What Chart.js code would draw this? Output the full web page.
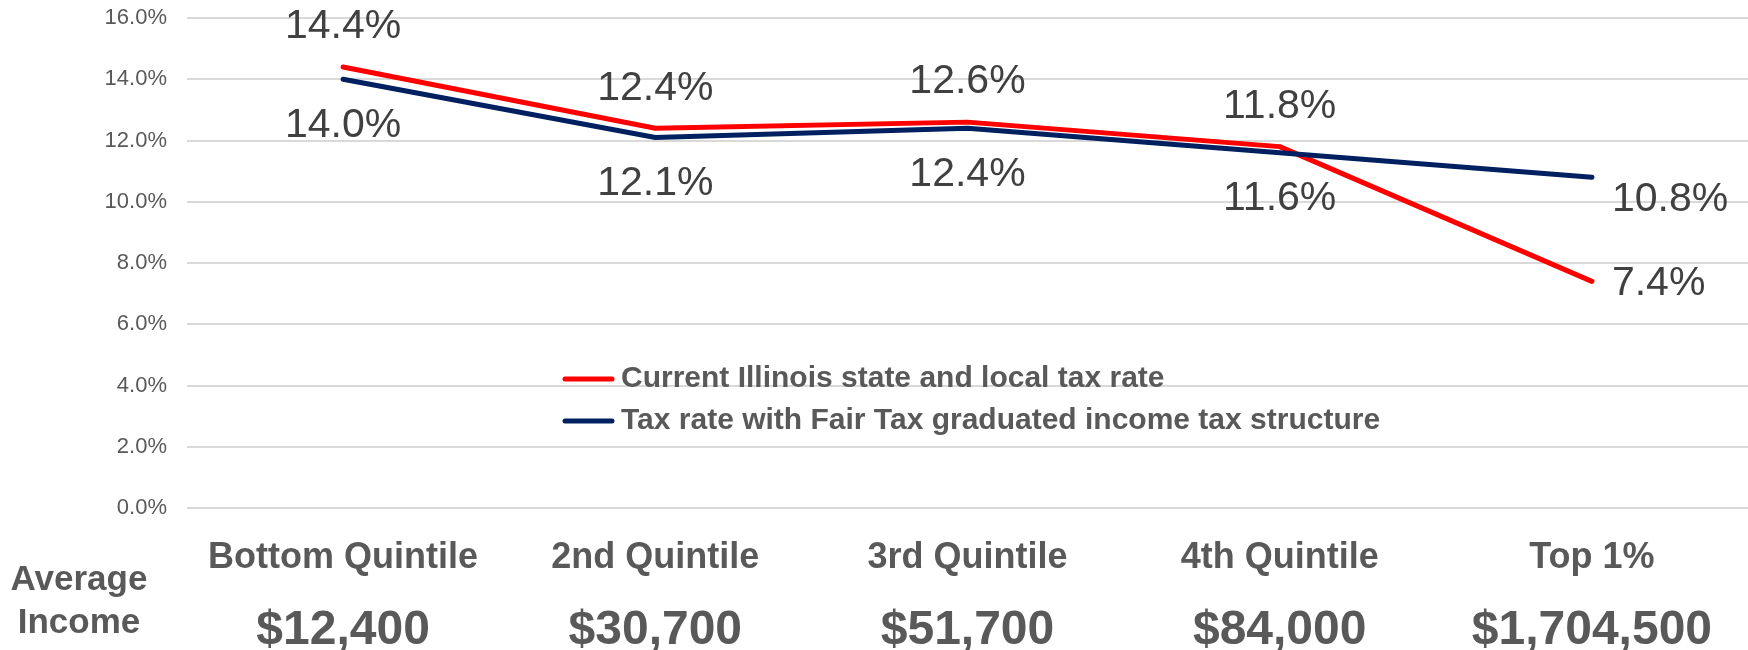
<!DOCTYPE html>
<html>
<head>
<meta charset="utf-8">
<script src="https://cdn.jsdelivr.net/npm/chart.js@4.4.0/dist/chart.umd.min.js"></script>
<style>
  html, body { margin: 0; padding: 0; background: #fff; }
  #wrap { width: 1748px; height: 650px; }
</style>
</head>
<body>
<div id="wrap"><canvas id="taxChart" width="1748" height="650"></canvas></div>
<script>
// chart data
const quintiles = ['Bottom Quintile', '2nd Quintile', '3rd Quintile', '4th Quintile', 'Top 1%'];
const incomes = ['$12,400', '$30,700', '$51,700', '$84,000', '$1,704,500'];
const currentRate = [14.4, 12.4, 12.6, 11.8, 7.4];
const fairTaxRate = [14.0, 12.1, 12.4, 11.6, 10.8];
const seriesNames = ['Current Illinois state and local tax rate', 'Tax rate with Fair Tax graduated income tax structure'];
const seriesColors = ['#FF0000', '#002060'];

const FONT = '"Liberation Sans", Arial, sans-serif';
const GREY = '#595959';

// value labels: red above, navy below, last point to the right
const valueLabels = {
    id: 'valueLabels',
    afterDatasetsDraw(chart) {
        const ctx = chart.ctx;
        ctx.save();
        ctx.font = '41px ' + FONT;
        ctx.fillStyle = '#404040';
        ctx.textBaseline = 'middle';
        chart.data.datasets.forEach((ds, di) => {
            const meta = chart.getDatasetMeta(di);
            meta.data.forEach((pt, i) => {
                const txt = ds.data[i].toFixed(1) + '%';
                const last = i === meta.data.length - 1;
                if (last) {
                    ctx.textAlign = 'left';
                    ctx.fillText(txt, pt.x + 20, pt.y + (di === 0 ? 2 : 22));
                } else {
                    ctx.textAlign = 'center';
                    ctx.fillText(txt, pt.x, pt.y + (di === 0 ? -40 : 46));
                }
            });
        });
        ctx.restore();
    }
};

// legend inside the plot + "Average Income" caption
const extras = {
    id: 'extras',
    afterDraw(chart) {
        const ctx = chart.ctx;
        ctx.save();
        const rows = [379, 421];
        chart.data.datasets.forEach((ds, i) => {
            ctx.strokeStyle = ds.borderColor;
            ctx.lineWidth = 5;
            ctx.lineCap = 'round';
            ctx.beginPath();
            ctx.moveTo(565, rows[i]);
            ctx.lineTo(612, rows[i]);
            ctx.stroke();
            ctx.font = 'bold 30px ' + FONT;
            ctx.fillStyle = GREY;
            ctx.textAlign = 'left';
            ctx.textBaseline = 'middle';
            ctx.fillText(ds.label, 621, rows[i]);
        });
        ctx.font = 'bold 35px ' + FONT;
        ctx.textAlign = 'center';
        ctx.fillText('Average', 79, 580);
        ctx.fillText('Income', 79, 623);
        ctx.restore();
    }
};

new Chart(document.getElementById('taxChart'), {
    type: 'line',
    data: {
        labels: quintiles,
        datasets: [
            // navy line sits on top of the red one
            { label: seriesNames[0], data: currentRate, borderColor: seriesColors[0], backgroundColor: seriesColors[0], order: 2 },
            { label: seriesNames[1], data: fairTaxRate, borderColor: seriesColors[1], backgroundColor: seriesColors[1], order: 1 }
        ]
    },
    options: {
        responsive: false,
        animation: false,
        layout: { padding: { top: 18, left: 0, right: 0, bottom: 0 } },
        elements: {
            line: { borderWidth: 5, borderCapStyle: 'round', borderJoinStyle: 'round', tension: 0 },
            point: { radius: 0, hoverRadius: 0 }
        },
        plugins: { legend: { display: false }, tooltip: { enabled: false } },
        scales: {
            x: {
                type: 'category',
                position: 'bottom',
                offset: true,
                grid: { display: false },
                border: { display: false },
                ticks: { autoSkip: false, maxRotation: 0, padding: 20, color: GREY,
                         font: { family: FONT, size: 36, weight: 'bold', lineHeight: 1.2 } },
                afterFit(s) { s.height = 74; }
            },
            x2: {
                type: 'category',
                position: 'bottom',
                labels: incomes,
                offset: true,
                grid: { display: false },
                border: { display: false },
                ticks: { autoSkip: false, maxRotation: 0, padding: 12, color: GREY,
                         font: { family: FONT, size: 48, weight: 'bold', lineHeight: 1.2 } },
                afterFit(s) { s.height = 68; }
            },
            y: {
                min: 0,
                max: 16,
                grid: { color: '#D9D9D9', lineWidth: 2, drawTicks: false },
                border: { display: false },
                ticks: { stepSize: 2, padding: 20, color: GREY,
                         font: { family: FONT, size: 22 },
                         callback: v => v.toFixed(1) + '%' },
                afterFit(s) { s.width = 187; s.paddingTop = 0; s.paddingBottom = 0; }
            }
        }
    },
    plugins: [valueLabels, extras]
});
</script>
</body>
</html>
